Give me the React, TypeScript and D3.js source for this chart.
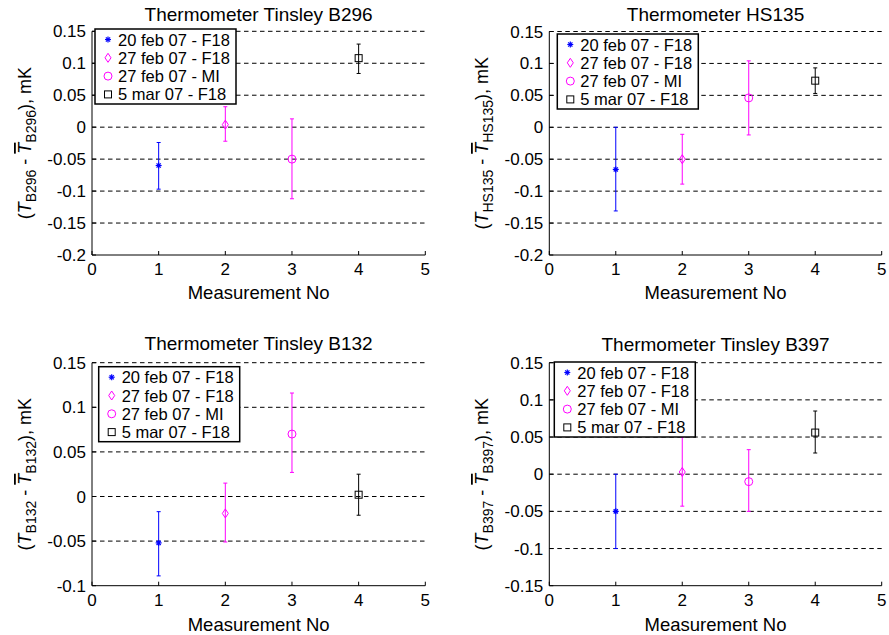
import React from "react";
import * as d3 from "d3";

// ---- data ----
const seriesNames = ["20 feb 07 - F18", "27 feb 07 - F18", "27 feb 07 - MI", "5 mar 07 - F18"];
const seriesColors = ["#0000ff", "#ff00ff", "#ff00ff", "#000000"];
const seriesMarkers = ["star", "diamond", "circle", "square"];
const measurementNo = [1, 2, 3, 4];
const xTicks = [0, 1, 2, 3, 4, 5];

const titles = ["Thermometer Tinsley B296", "Thermometer HS135", "Thermometer Tinsley B132", "Thermometer Tinsley B397"];
const subscripts = ["B296", "HS135", "B132", "B397"];

const b296Value = [-0.06, 0.004, -0.05, 0.108];
const b296Upper = [-0.024, 0.032, 0.013, 0.13];
const b296Lower = [-0.097, -0.022, -0.112, 0.084];

const hs135Value = [-0.066, -0.05, 0.046, 0.073];
const hs135Upper = [0.0, -0.011, 0.104, 0.093];
const hs135Lower = [-0.131, -0.089, -0.012, 0.053];

const b132Value = [-0.052, -0.019, 0.07, 0.002];
const b132Upper = [-0.017, 0.015, 0.116, 0.025];
const b132Lower = [-0.089, -0.051, 0.027, -0.021];

const b397Value = [-0.05, 0.003, -0.01, 0.056];
const b397Upper = [0.0, 0.05, 0.033, 0.085];
const b397Lower = [-0.1, -0.043, -0.05, 0.0285];

const yTicksB296 = [-0.2, -0.15, -0.1, -0.05, 0, 0.05, 0.1, 0.15];
const yTicksHS135 = [-0.2, -0.15, -0.1, -0.05, 0, 0.05, 0.1, 0.15];
const yTicksB132 = [-0.1, -0.05, 0, 0.05, 0.1, 0.15];
const yTicksB397 = [-0.15, -0.1, -0.05, 0, 0.05, 0.1, 0.15];

const FONT = "'Liberation Sans', Arial, Helvetica, sans-serif";

function fmt(v: number) {
  return String(+v.toFixed(2));
}

function Marker({ kind, x, y, color }: { kind: string; x: number; y: number; color: string }) {
  if (kind === "star") {
    const s = 3;
    return (
      <g stroke={color} strokeWidth={1.2}>
        <line x1={x - s} y1={y} x2={x + s} y2={y} />
        <line x1={x} y1={y - s} x2={x} y2={y + s} />
        <line x1={x - s * 0.7} y1={y - s * 0.7} x2={x + s * 0.7} y2={y + s * 0.7} />
        <line x1={x - s * 0.7} y1={y + s * 0.7} x2={x + s * 0.7} y2={y - s * 0.7} />
      </g>
    );
  }
  if (kind === "diamond") {
    const w = 3, h = 4.5;
    return (
      <path d={`M${x},${y - h}L${x + w},${y}L${x},${y + h}L${x - w},${y}Z`} fill="none" stroke={color} strokeWidth={1} />
    );
  }
  if (kind === "circle") {
    return <circle cx={x} cy={y} r={4} fill="none" stroke={color} strokeWidth={1} />;
  }
  const s = 3.5;
  return <rect x={x - s} y={y - s} width={2 * s} height={2 * s} fill="none" stroke={color} strokeWidth={1} />;
}

type PanelProps = {
  L: number; R: number; T: number; B: number;
  yTicks: number[];
  values: number[]; upper: number[]; lower: number[];
  title: string; sub: string;
  titleY: number; tickY: number; labelY: number; ylabelX: number;
  legX: number; legY: number;
};

function Panel(p: PanelProps) {
  const x = d3.scaleLinear().domain([0, 5]).range([p.L, p.R]);
  const yMin = d3.min(p.yTicks) as number;
  const yMax = d3.max(p.yTicks) as number;
  const y = d3.scaleLinear().domain([yMin, yMax]).range([p.B, p.T]);
  const cx = (p.L + p.R) / 2;
  const cy = (p.T + p.B) / 2;
  return (
    <g fontFamily={FONT}>
      {/* grid */}
      {p.yTicks.filter((t) => t !== yMin).map((t) => (
        <line key={"g" + t} x1={p.L} x2={p.R} y1={y(t)} y2={y(t)} stroke="#000" strokeWidth={1} strokeDasharray="4.5,3.5" />
      ))}
      {/* axes */}
      <line x1={p.L} x2={p.R} y1={p.B} y2={p.B} stroke="#000" strokeWidth={1} />
      <line x1={p.L} x2={p.L} y1={p.T} y2={p.B} stroke="#000" strokeWidth={1} />
      {xTicks.map((t) => (
        <g key={"x" + t}>
          <line x1={x(t)} x2={x(t)} y1={p.B} y2={p.B - 4} stroke="#000" />
          <text x={x(t)} y={p.tickY} fontSize={17} textAnchor="middle">{fmt(t)}</text>
        </g>
      ))}
      {p.yTicks.map((t) => (
        <g key={"y" + t}>
          <line x1={p.L} x2={p.L + 4} y1={y(t)} y2={y(t)} stroke="#000" />
          <text x={p.L - 6} y={y(t) + 6} fontSize={17} textAnchor="end">{fmt(t)}</text>
        </g>
      ))}
      {/* title */}
      <text x={cx} y={p.titleY} fontSize={19} textAnchor="middle">{p.title}</text>
      <text x={cx} y={p.labelY} fontSize={18.5} textAnchor="middle">Measurement No</text>
      {/* y label */}
      <text transform={`translate(${p.ylabelX},${cy}) rotate(-90)`} fontSize={18} textAnchor="middle">
        <tspan>(</tspan>
        <tspan fontStyle="italic">T</tspan>
        <tspan fontSize={14} dy={5}>{p.sub}</tspan>
        <tspan dy={-5}> - </tspan>
        <tspan fontStyle="italic" textDecoration="overline">T</tspan>
        <tspan fontSize={14} dy={5}>{p.sub}</tspan>
        <tspan dy={-5}>), mK</tspan>
      </text>
      {/* error bars */}
      {measurementNo.map((m, i) => {
        const c = seriesColors[i];
        const px = x(m);
        return (
          <g key={"e" + i}>
            <line x1={px} x2={px} y1={y(p.upper[i])} y2={y(p.lower[i])} stroke={c} strokeWidth={1} />
            <line x1={px - 2} x2={px + 2} y1={y(p.upper[i])} y2={y(p.upper[i])} stroke={c} strokeWidth={1} />
            <line x1={px - 2} x2={px + 2} y1={y(p.lower[i])} y2={y(p.lower[i])} stroke={c} strokeWidth={1} />
            <Marker kind={seriesMarkers[i]} x={px} y={y(p.values[i])} color={c} />
          </g>
        );
      })}
      {/* legend */}
      <g>
        <rect x={p.legX} y={p.legY} width={141} height={75} fill="white" stroke="#000" strokeWidth={1.5} />
        {seriesNames.map((n, i) => (
          <g key={"l" + i}>
            <Marker kind={seriesMarkers[i]} x={p.legX + 13} y={p.legY + 10.5 + i * 18.3} color={seriesColors[i]} />
            <text x={p.legX + 23} y={p.legY + 16.5 + i * 18.3} fontSize={16.5}>{n}</text>
          </g>
        ))}
      </g>
    </g>
  );
}

export default function App() {
  return (
    <svg width={889} height={635} style={{ position: "absolute", left: 0, top: 0, background: "white" }}>
      <rect width={889} height={635} fill="white" />
      <Panel L={92} R={425.3} T={31.3} B={255} yTicks={yTicksB296}
        values={b296Value} upper={b296Upper} lower={b296Lower}
        title={titles[0]} sub={subscripts[0]} titleY={21} tickY={275} labelY={299} ylabelX={31}
        legX={95} legY={29} />
      <Panel L={549.3} R={881.7} T={31.5} B={255} yTicks={yTicksHS135}
        values={hs135Value} upper={hs135Upper} lower={hs135Lower}
        title={titles[1]} sub={subscripts[1]} titleY={21} tickY={275} labelY={299} ylabelX={488}
        legX={557.3} legY={34} />
      <Panel L={92} R={425.3} T={362.7} B={585.7} yTicks={yTicksB132}
        values={b132Value} upper={b132Upper} lower={b132Lower}
        title={titles[2]} sub={subscripts[2]} titleY={350} tickY={606} labelY={631} ylabelX={31}
        legX={98.7} legY={366.7} />
      <Panel L={549.3} R={881.7} T={362.7} B={585.7} yTicks={yTicksB397}
        values={b397Value} upper={b397Upper} lower={b397Lower}
        title={titles[3]} sub={subscripts[3]} titleY={351} tickY={606} labelY={631} ylabelX={488}
        legX={554.3} legY={362} />
    </svg>
  );
}
